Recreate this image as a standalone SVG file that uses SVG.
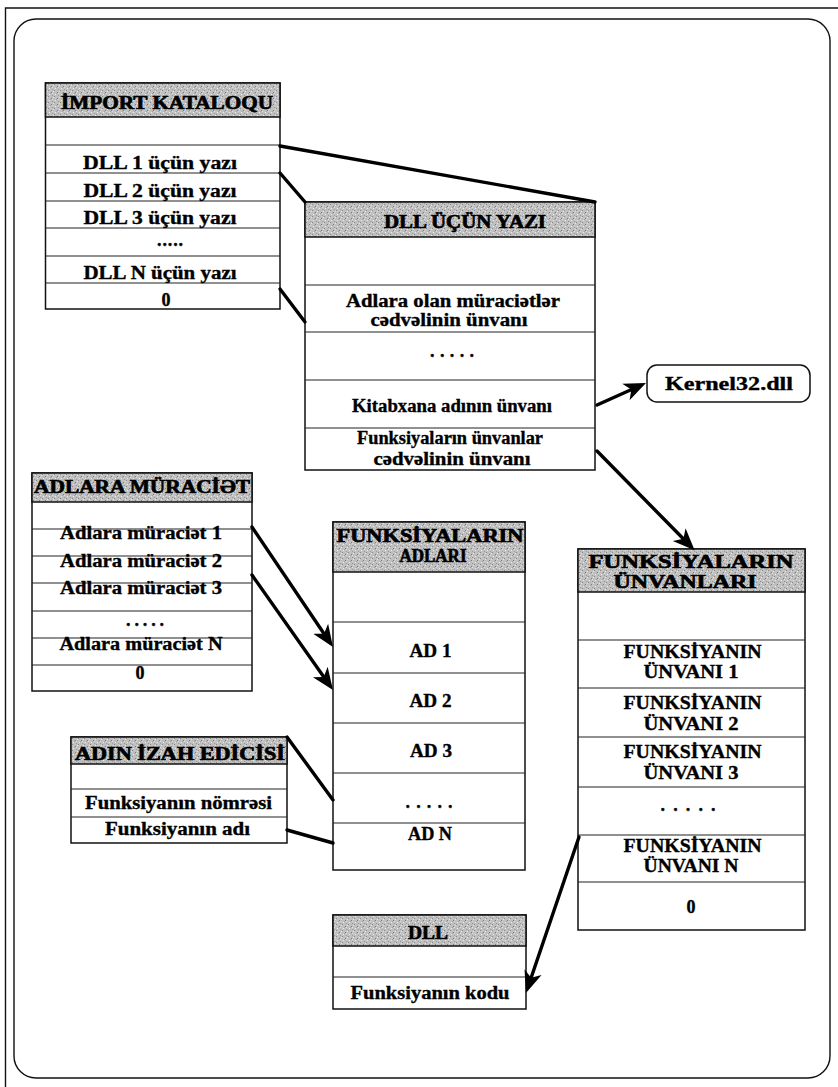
<svg xmlns="http://www.w3.org/2000/svg" width="838" height="1087" viewBox="0 0 838 1087">
  <style>
    .frame { fill: none; stroke: #111; stroke-width: 1.4; }
    .box { fill: #fff; stroke: #111; stroke-width: 1.5; }
    .hdr { fill: url(#grain); stroke: #111; stroke-width: 1.5; }
    .sep { stroke: #222; stroke-width: 1.1; }
    .t { font-family: "Liberation Serif", "DejaVu Serif", serif; font-weight: bold; font-size: 18px; fill: #000; text-anchor: middle; stroke: #000; stroke-width: 0.35; }
    .h { font-family: "Liberation Serif", "DejaVu Serif", serif; font-weight: bold; font-size: 19px; fill: #000; text-anchor: middle; stroke: #000; stroke-width: 0.7; }
    .k { font-size: 19px; }
    .conn { fill: none; stroke: #000; stroke-width: 3.4; stroke-linecap: round; }
  </style>
  <defs>
    <pattern id="grain" width="6" height="6" patternUnits="userSpaceOnUse">
      <rect width="6" height="6" fill="#c0c0c0"/>
      <rect x="0" y="0" width="1" height="1" fill="#8a8a8a"/>
      <rect x="3" y="2" width="1" height="1" fill="#7c7c7c"/>
      <rect x="1" y="4" width="1" height="1" fill="#ececec"/>
      <rect x="4" y="5" width="1" height="1" fill="#9a9a9a"/>
      <rect x="5" y="1" width="1" height="1" fill="#e6e6e6"/>
      <rect x="2" y="3" width="1" height="1" fill="#a2a2a2"/>
      <rect x="4" y="3" width="1" height="1" fill="#dddddd"/>
    </pattern>
    <marker id="ah" markerUnits="userSpaceOnUse" markerWidth="24" markerHeight="20" viewBox="0 0 24 20" refX="16" refY="10" orient="auto">
      <path d="M0,1 L22,10 L0,19 L6,10 z" fill="#000"/>
    </marker>
  </defs>

  <!-- page frame -->
  <g id="frame">
    <path class="frame" d="M5.5,1087 L5.5,8 L838,8"/>
    <rect class="frame" x="14" y="19" width="816" height="1059" rx="22" ry="22"/>
  </g>

  <!-- import directory -->
  <g id="import-katalogu">
    <rect class="box" x="45.5" y="83" width="234.5" height="226"/>
    <rect class="hdr" x="45.5" y="83" width="234.5" height="34"/>
    <path class="sep" d="M45.5,145H280M45.5,173H280M45.5,201H280M45.5,228H280M45.5,256H280M45.5,283H280"/>
    <text class="h" x="167" y="108.5" textLength="212" lengthAdjust="spacingAndGlyphs">İMPORT KATALOQU</text>
    <text class="t" x="160" y="168.5" textLength="154" lengthAdjust="spacingAndGlyphs">DLL 1 üçün yazı</text>
    <text class="t" x="160" y="196.5" textLength="153" lengthAdjust="spacingAndGlyphs">DLL 2 üçün yazı</text>
    <text class="t" x="160" y="224" textLength="153" lengthAdjust="spacingAndGlyphs">DLL 3 üçün yazı</text>
    <text class="t" x="170" y="246" textLength="26" lengthAdjust="spacing">. . . . .</text>
    <text class="t" x="160" y="279" textLength="153" lengthAdjust="spacingAndGlyphs">DLL N üçün yazı</text>
    <text class="t" x="166" y="305.5">0</text>
  </g>

  <!-- DLL entry -->
  <g id="dll-ucun-yazi">
    <rect class="box" x="305" y="202" width="290" height="268"/>
    <rect class="hdr" x="305" y="202" width="290" height="35"/>
    <path class="sep" d="M305,285H595M305,332H595M305,380H595M305,428H595"/>
    <text class="h" x="465" y="227.5" textLength="162" lengthAdjust="spacingAndGlyphs">DLL ÜÇÜN YAZI</text>
    <text class="t" x="453" y="306.5" textLength="214" lengthAdjust="spacingAndGlyphs">Adlara olan müraciətlər</text>
    <text class="t" x="449" y="325.5" textLength="157" lengthAdjust="spacingAndGlyphs">cədvəlinin ünvanı</text>
    <text class="t" x="452" y="357" textLength="44" lengthAdjust="spacing">. . . . .</text>
    <text class="t" x="452" y="411.5" textLength="200" lengthAdjust="spacingAndGlyphs">Kitabxana adının ünvanı</text>
    <text class="t" x="450" y="444" textLength="186" lengthAdjust="spacingAndGlyphs">Funksiyaların ünvanlar</text>
    <text class="t" x="452" y="464.5" textLength="157" lengthAdjust="spacingAndGlyphs">cədvəlinin ünvanı</text>
  </g>

  <!-- library name -->
  <g id="kernel32">
    <rect class="box" x="647" y="365" width="163" height="37" rx="10" ry="10"/>
    <text class="t k" x="729" y="390" textLength="128" lengthAdjust="spacingAndGlyphs">Kernel32.dll</text>
  </g>

  <!-- name references -->
  <g id="adlara-muraciet">
    <rect class="box" x="32" y="473" width="220" height="218"/>
    <rect class="hdr" x="32" y="473" width="220" height="29"/>
    <path class="sep" d="M32,529H252M32,556H252M32,583H252M32,611H252M32,638H252M32,665H252"/>
    <text class="h" x="142" y="492.5" textLength="216" lengthAdjust="spacingAndGlyphs">ADLARA MÜRACİƏT</text>
    <text class="t" x="141" y="538.5" textLength="162" lengthAdjust="spacingAndGlyphs">Adlara müraciət 1</text>
    <text class="t" x="141" y="566.5" textLength="162" lengthAdjust="spacingAndGlyphs">Adlara müraciət 2</text>
    <text class="t" x="141" y="593.5" textLength="162" lengthAdjust="spacingAndGlyphs">Adlara müraciət 3</text>
    <text class="t" x="145" y="626" textLength="38" lengthAdjust="spacing">. . . . .</text>
    <text class="t" x="141" y="650" textLength="163" lengthAdjust="spacingAndGlyphs">Adlara müraciət N</text>
    <text class="t" x="140" y="679">0</text>
  </g>

  <!-- function names -->
  <g id="funksiyalarin-adlari">
    <rect class="box" x="333" y="522" width="192" height="348"/>
    <rect class="hdr" x="333" y="522" width="192" height="50"/>
    <path class="sep" d="M333,622H525M333,673H525M333,723H525M333,773H525M333,823H525"/>
    <text class="h" x="430" y="542" textLength="187" lengthAdjust="spacingAndGlyphs">FUNKSİYALARIN</text>
    <text class="h" x="433" y="562" textLength="67" lengthAdjust="spacingAndGlyphs">ADLARI</text>
    <text class="t" x="430.5" y="656.5" textLength="42" lengthAdjust="spacingAndGlyphs">AD 1</text>
    <text class="t" x="430.5" y="706.5" textLength="42" lengthAdjust="spacingAndGlyphs">AD 2</text>
    <text class="t" x="431" y="756.5" textLength="42" lengthAdjust="spacingAndGlyphs">AD 3</text>
    <text class="t" x="429" y="808" textLength="47" lengthAdjust="spacing">. . . . .</text>
    <text class="t" x="430" y="840" textLength="44" lengthAdjust="spacingAndGlyphs">AD N</text>
  </g>

  <!-- function addresses -->
  <g id="funksiyalarin-unvanlari">
    <rect class="box" x="578" y="549" width="227" height="381"/>
    <rect class="hdr" x="578" y="549" width="227" height="43"/>
    <path class="sep" d="M578,640H805M578,688H805M578,737H805M578,787H805M578,835H805M578,882H805"/>
    <text class="h" x="691" y="567.5" textLength="205" lengthAdjust="spacingAndGlyphs">FUNKSİYALARIN</text>
    <text class="h" x="685" y="588" textLength="143" lengthAdjust="spacingAndGlyphs">ÜNVANLARI</text>
    <text class="t" x="692.5" y="658" textLength="138" lengthAdjust="spacingAndGlyphs">FUNKSİYANIN</text>
    <text class="t" x="691" y="678" textLength="95" lengthAdjust="spacingAndGlyphs">ÜNVANI 1</text>
    <text class="t" x="692.5" y="709" textLength="138" lengthAdjust="spacingAndGlyphs">FUNKSİYANIN</text>
    <text class="t" x="691" y="730" textLength="95" lengthAdjust="spacingAndGlyphs">ÜNVANI 2</text>
    <text class="t" x="692.5" y="757.5" textLength="138" lengthAdjust="spacingAndGlyphs">FUNKSİYANIN</text>
    <text class="t" x="691" y="779" textLength="95" lengthAdjust="spacingAndGlyphs">ÜNVANI 3</text>
    <text class="t" x="688" y="811" textLength="55" lengthAdjust="spacing">. . . . .</text>
    <text class="t" x="692.5" y="852" textLength="138" lengthAdjust="spacingAndGlyphs">FUNKSİYANIN</text>
    <text class="t" x="691" y="872" textLength="95" lengthAdjust="spacingAndGlyphs">ÜNVANI N</text>
    <text class="t" x="691" y="913">0</text>
  </g>

  <!-- name descriptor -->
  <g id="adin-izah-edicisi">
    <rect class="box" x="71" y="737" width="216" height="106"/>
    <rect class="hdr" x="71" y="737" width="216" height="27"/>
    <path class="sep" d="M71,789H287M71,817H287"/>
    <text class="h" x="180" y="760" textLength="210" lengthAdjust="spacingAndGlyphs">ADIN İZAH EDİCİSİ</text>
    <text class="t" x="178.5" y="808.5" textLength="187" lengthAdjust="spacingAndGlyphs">Funksiyanın nömrəsi</text>
    <text class="t" x="177.5" y="835" textLength="145" lengthAdjust="spacingAndGlyphs">Funksiyanın adı</text>
  </g>

  <!-- library code -->
  <g id="dll">
    <rect class="box" x="333" y="915" width="193" height="94"/>
    <rect class="hdr" x="333" y="915" width="193" height="31"/>
    <path class="sep" d="M333,977H526"/>
    <text class="h" x="428" y="938.5" textLength="40" lengthAdjust="spacingAndGlyphs">DLL</text>
    <text class="t" x="430" y="998.5" textLength="159" lengthAdjust="spacingAndGlyphs">Funksiyanın kodu</text>
  </g>

  <!-- connectors -->
  <g id="connectors">
    <line class="conn" x1="280" y1="146" x2="595" y2="202"/>
    <line class="conn" x1="280" y1="173" x2="305" y2="202"/>
    <line class="conn" x1="280" y1="289" x2="305" y2="322"/>
    <line class="conn" x1="597" y1="405" x2="640.5" y2="385.5" marker-end="url(#ah)"/>
    <line class="conn" x1="597" y1="451" x2="690.4" y2="546" marker-end="url(#ah)"/>
    <line class="conn" x1="252" y1="527" x2="329.6" y2="642" marker-end="url(#ah)"/>
    <line class="conn" x1="252" y1="575" x2="329.5" y2="685.1" marker-end="url(#ah)"/>
    <line class="conn" x1="287" y1="737" x2="333" y2="800"/>
    <line class="conn" x1="287" y1="830" x2="333" y2="843"/>
    <line class="conn" x1="579" y1="837" x2="527.9" y2="987.3" marker-end="url(#ah)"/>
  </g>
</svg>
